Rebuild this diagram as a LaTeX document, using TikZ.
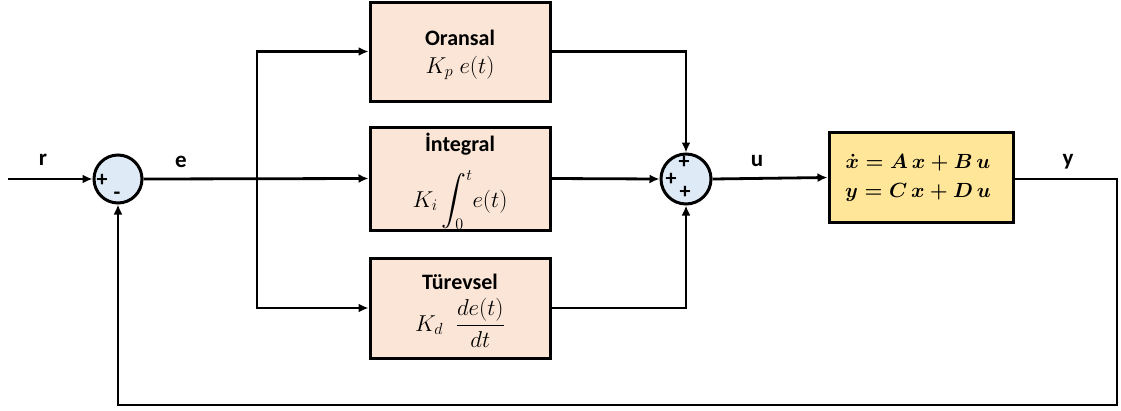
\RequirePackage{fix-cm}
\documentclass[tikz,border=0pt]{standalone}
\usepackage{amsmath}
\usepackage{fontspec}
\setmainfont{Carlito}
\usetikzlibrary{arrows.meta}
\definecolor{peach}{HTML}{FBE5D6}
\definecolor{sumblue}{HTML}{DEEBF7}
\definecolor{gold}{HTML}{FFE699}
\tikzset{
  blk/.style={draw=black, line width=3pt, fill=peach, minimum width=180pt, inner sep=0pt},
  sumnode/.style={draw=black, line width=3pt, fill=sumblue, circle, minimum size=48pt, inner sep=0pt},
  sysblk/.style={draw=black, line width=3pt, fill=gold, minimum width=184pt, minimum height=90pt, inner sep=0pt},
  ttl/.style={font=\fontsize{22}{24}\selectfont\bfseries, inner sep=0pt},
  mth/.style={font=\fontsize{23}{26}\selectfont, inner sep=0pt},
  sysmth/.style={font=\fontsize{20.5}{24}\selectfont\boldmath, inner sep=0pt},
  conn/.style={line width=2.8pt, -{Latex[length=10pt,width=9pt]}},
  lbl/.style={font=\fontsize{23}{24}\selectfont\bfseries, inner sep=0pt},
  sgn/.style={font=\fontsize{22}{22}\selectfont\bfseries, inner sep=0pt},
}
\begin{document}
\begin{tikzpicture}[x=1pt,y=-1pt]
\useasboundingbox (0,0) rectangle (1121,410);
% blocks
\node[sumnode] (s1) at (118,179) {};
\node[blk, minimum height=99pt] (prop) at (460,51.5) {};
\node[blk, minimum height=103pt] (integ) at (460,178.5) {};
\node[blk, minimum height=100pt] (deriv) at (460,308) {};
\node[sumnode, minimum size=50pt] (s2) at (686,179) {};
\node[sysblk] (sys) at (921,177.5) {};
% block texts
\node[ttl] (propT) at (460,38) {Oransal};
\node[mth] (propM) at (460,68) {$K_p\; e(t)$};
\node[ttl] (integT) at (460,144) {İntegral};
\node[mth] (integM) at (460,200) {$\displaystyle K_i\int_0^t\! e(t)$};
\node[ttl] (derivT) at (460,282) {Türevsel};
\node[mth] (derivM) at (460,323) {$\displaystyle K_d\;\; \frac{de(t)}{dt}$};
\node[sysmth] (sys1) at (918,163) {$\dot{x} = A\,x + B\,u$};
\node[sysmth] (sys2) at (918,192) {$y = C\,x + D\,u$};
% coordinates
\coordinate (in) at (8,179);
\coordinate (br) at (257,179);
\coordinate (fb) at (1117,405);
% signs
\node[sgn] (p1) at (102,180) {+};
\node[sgn] (m1) at (117,196) {-};
\node[sgn] (p2) at (684,162) {+};
\node[sgn] (p3) at (671,179) {+};
\node[sgn] (p4) at (685,192) {+};
% labels
\node[lbl] (lr) at (43,160) {r};
\node[lbl] (le) at (181,162) {e};
\node[lbl] (lu) at (757,161) {u};
\node[lbl] (ly) at (1068,162) {y};
% connectors
\draw[conn] (in) -- (s1.west);
\draw[conn] (s1.east) -- (integ.west);
\draw[conn] (br) |- (prop.west);
\draw[conn] (br) |- (deriv.west);
\draw[conn] (prop.east) -| (s2.north);
\draw[conn] (deriv.east) -| (s2.south);
\draw[conn] (integ.east) -- (s2.west);
\draw[conn] (s2.east) -- (sys.west);
\draw[conn] (sys.east |- s2.east) -| (fb) -| (s1.south);
\end{tikzpicture}
\end{document}
